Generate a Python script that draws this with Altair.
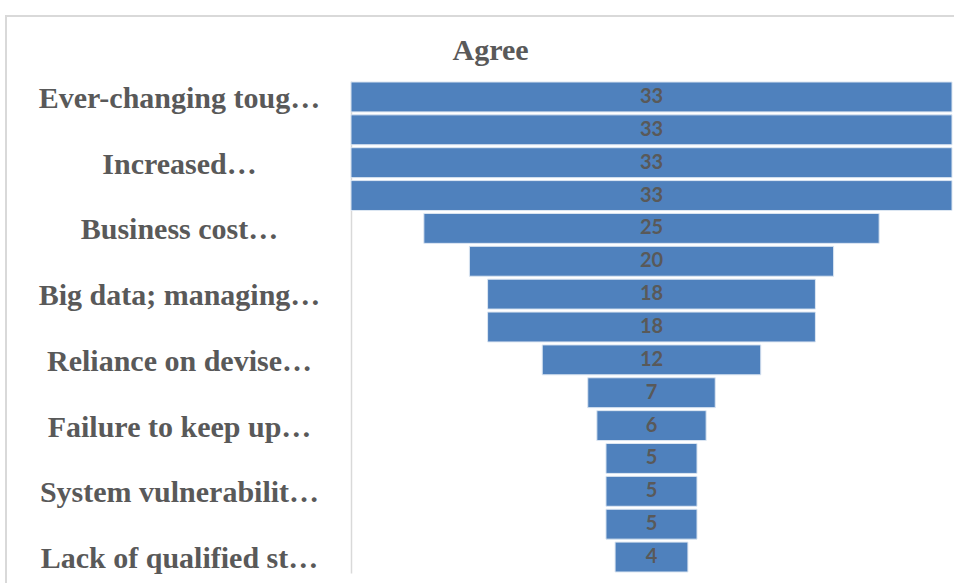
import json
import altair as alt
import pandas as pd

labels = ["Ever-changing toug…", "", "Increased…", "", "Business cost…", "",
          "Big data; managing…", "", "Reliance on devise…", "", "Failure to keep up…", "",
          "System vulnerabilit…", "", "Lack of qualified st…"]
values = [33, 33, 33, 33, 25, 20, 18, 18, 12, 7, 6, 5, 5, 5, 4]
title_text = "Agree"

df = pd.DataFrame({"idx": list(range(len(values))), "value": values})

label_expr = json.dumps(labels, ensure_ascii=False) + "[datum.value]"

y_enc = alt.Y(
    "idx:O",
    title=None,
    scale=alt.Scale(paddingInner=0.09, paddingOuter=0.03),
    axis=alt.Axis(
        labelExpr=label_expr,
        labelAlign="center",
        labelBaseline="middle",
        labelPadding=172,
        labelOffset=2,
        labelFont="Liberation Serif",
        labelFontWeight="bold",
        labelFontSize=30,
        labelColor="#595959",
        labelLimit=0,
        labelOverlap=False,
        ticks=False,
        domainColor="#D9D9D9",
        domainWidth=1.5,
    ),
)

base = alt.Chart(df).transform_calculate(
    lo="-datum.value/2", hi="datum.value/2"
)

bars = base.mark_bar(color="#4F81BD", stroke="#DCE6F2", strokeWidth=1).encode(
    x=alt.X("lo:Q", scale=alt.Scale(domain=[-16.5, 16.5], nice=False, zero=False), axis=None),
    x2="hi:Q",
    y=y_enc,
)

texts = base.mark_text(
    font="Lato", fontWeight="bold", fontSize=20, color="#595959", baseline="middle", align="center"
).encode(
    x=alt.X("zero:Q", scale=alt.Scale(domain=[-16.5, 16.5], nice=False, zero=False), axis=None),
    y=alt.Y("idx:O"),
    text=alt.Text("value:Q"),
).transform_calculate(zero="0")

frame = alt.Chart(df).mark_rect(fill=None, stroke="#D9D9D9", strokeWidth=1.5).encode(
    x=alt.value(-345), x2=alt.value(800), y=alt.value(-65), y2=alt.value(700)
)

chart = alt.layer(frame, bars, texts).properties(
    width=601,
    height=492,
    padding={"left": 351, "top": 81, "right": 2, "bottom": 10},
    autosize=alt.AutoSizeParams(type="none"),
    title=alt.TitleParams(
        title_text,
        font="Liberation Serif",
        fontWeight="bold",
        fontSize=30,
        color="#595959",
        anchor="middle",
        frame="group",
        baseline="alphabetic",
        dx=-161,
        dy=75,
        offset=0,
    ),
).configure_view(stroke=None)

chart.save("out.html", embed_options={"renderer": "svg", "actions": False})
